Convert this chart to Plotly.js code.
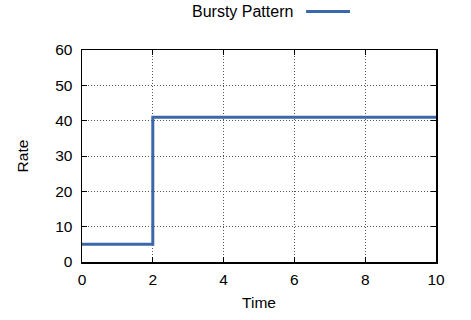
<!DOCTYPE html>
<html>
<head>
<meta charset="utf-8">
<script src="https://cdn.plot.ly/plotly-3.0.1.min.js"></script>
<style>html,body{margin:0;padding:0;background:#fff;}#chart{width:471px;height:320px;}</style>
</head>
<body>
<div id="chart"></div>
<script>
var seriesName = "Bursty Pattern";
var timeValues = [0, 2, 10];
var rateValues = [5, 41, 41];
var xTicks = [0, 2, 4, 6, 8, 10];
var yTicks = [0, 10, 20, 30, 40, 50, 60];
var lineColor = "#3a68a8";
var font = "Liberation Sans, Arial, Helvetica, sans-serif";
var fs = 15.5;

var trace = {
  x: timeValues, y: rateValues, type: "scatter", mode: "lines",
  name: seriesName, line: {shape: "hv", color: lineColor, width: 3},
  showlegend: false
};

var axisCommon = {
  showline: true, linecolor: "#000", linewidth: 1.5, mirror: "ticks",
  ticks: "inside", ticklen: 5, tickcolor: "#000", tickwidth: 1,
  showgrid: true, gridcolor: "#555", griddash: "1px,2px", gridwidth: 1,
  zeroline: false, tickfont: {family: font, size: fs, color: "#000"}
};

var layout = {
  width: 471, height: 320,
  margin: {l: 82, r: 35, t: 50, b: 58},
  paper_bgcolor: "#fff", plot_bgcolor: "#fff",
  font: {family: font, size: fs, color: "#000"},
  xaxis: Object.assign({}, axisCommon, {
    range: [0, 10], tickvals: xTicks, ticktext: xTicks.map(String),
    ticklabelstandoff: 3,
    title: {text: "Time", font: {family: font, size: fs}, standoff: 10}
  }),
  yaxis: Object.assign({}, axisCommon, {
    range: [0, 60], tickvals: yTicks, ticktext: yTicks.map(String),
    ticklabelstandoff: 5,
    title: {text: "Rate", font: {family: font, size: fs}, standoff: 22}
  }),
  annotations: [{
    xref: "paper", yref: "paper", x: 0.6017, y: 1.1815, xanchor: "right", yanchor: "middle",
    text: seriesName, showarrow: false, font: {family: font, size: 16, color: "#000"}
  }],
  shapes: [{
    type: "line", xref: "paper", yref: "paper", x0: 0.633, x1: 0.757, y0: 1.1815, y1: 1.1815,
    line: {color: lineColor, width: 3}
  }]
};

Plotly.newPlot("chart", [trace], layout, {displayModeBar: false, staticPlot: true});
</script>
</body>
</html>
